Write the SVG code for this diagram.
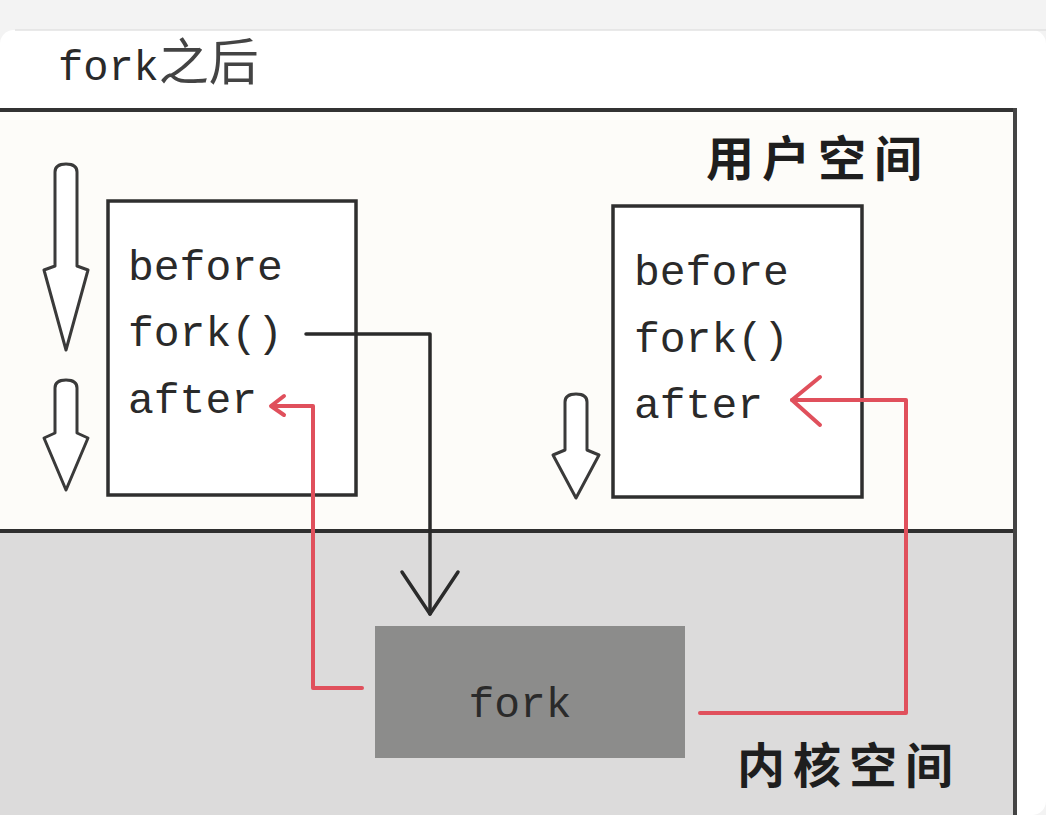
<svg xmlns="http://www.w3.org/2000/svg" width="1046" height="815" viewBox="0 0 1046 815">
<style>
.mono{font-family:"Liberation Mono","Courier New",monospace;font-size:43px;fill:#2a2a2a}
.cjk{font-family:"Noto Sans CJK SC","Noto Sans",sans-serif;font-size:48px;font-weight:bold;fill:#1e1e1e;letter-spacing:8px}
.box{fill:#ffffff;stroke:#2f2f2f;stroke-width:3.5}
.hollow{fill:#ffffff;stroke:#3a3a3a;stroke-width:3;stroke-linejoin:round}
.red{fill:none;stroke:#e0505c;stroke-width:4;stroke-linecap:round;stroke-linejoin:round}
.blk{fill:none;stroke:#2a2a2a;stroke-width:3.5;stroke-linecap:round;stroke-linejoin:round}
</style>
<rect x="0" y="0" width="1046" height="815" fill="#f3f3f3"/>
<rect x="0" y="30" width="1046" height="785" rx="14" fill="#ffffff"/>
<line x1="15" y1="30" x2="1046" y2="30" stroke="#e2e2e2" stroke-width="1.5"/>
<text x="58" y="80" class="mono" style="font-size:42px">fork<tspan style="font-family:'Noto Sans CJK SC',sans-serif;font-size:50px;fill:#444">之后</tspan></text>
<g id="user-space">
<rect x="0" y="110" width="1015" height="421" fill="#fdfcf9"/>
</g>
<g id="kernel-space">
<rect x="0" y="531" width="1014" height="284" fill="#dcdbdb"/>
</g>
<g id="frame">
<line x1="0" y1="110" x2="1015" y2="110" stroke="#333" stroke-width="4"/>
<line x1="1015" y1="108" x2="1015" y2="815" stroke="#444" stroke-width="4"/>
<line x1="0" y1="531" x2="1013" y2="531" stroke="#2f2f2f" stroke-width="4"/>
</g>
<text x="706" y="176" class="cjk">用户空间</text>
<text x="737" y="783" class="cjk">内核空间</text>
<g id="parent-process">
<rect x="108" y="201" width="248" height="294" class="box"/>
<text x="128" y="280" class="mono">before</text>
<text x="128" y="346" class="mono">fork()</text>
<text x="128" y="413" class="mono">after</text>
</g>
<g id="child-process">
<rect x="613" y="206" width="249" height="291" class="box"/>
<text x="634" y="285" class="mono">before</text>
<text x="634" y="352" class="mono">fork()</text>
<text x="634" y="418" class="mono">after</text>
</g>
<g id="fork-syscall">
<rect x="375" y="626" width="310" height="132" fill="#8c8c8b"/>
<text x="520" y="717" class="mono" text-anchor="middle">fork</text>
</g>
<g id="flow-arrows">
<path class="hollow" d="M55,172 Q55,164 66,164 Q77,164 77,172 L77,266 L88,270 L66,350 L44,270 L55,266 Z"/>
<path class="hollow" d="M55,388 Q55,380 66,380 Q77,380 77,388 L77,433 L88,438 L66,490 L44,438 L55,433 Z"/>
<path class="hollow" d="M565,402 Q565,394 576,394 Q587,394 587,402 L587,450 L599,455 L576,498 L553,455 L565,450 Z"/>
</g>
<g id="connectors">
<path class="blk" d="M306,334 L430,334 L430,614"/>
<path class="blk" d="M402,572 L430,614 L458,572"/>
<path class="red" d="M362,688 L313,688 L313,406 L272,406"/>
<path class="red" d="M284,396 L271,406 L284,415"/>
<path class="red" d="M700,713 L906,713 L906,400 L792,400"/>
<path class="red" d="M820,377 L792,400 L820,425"/>
</g>
</svg>
